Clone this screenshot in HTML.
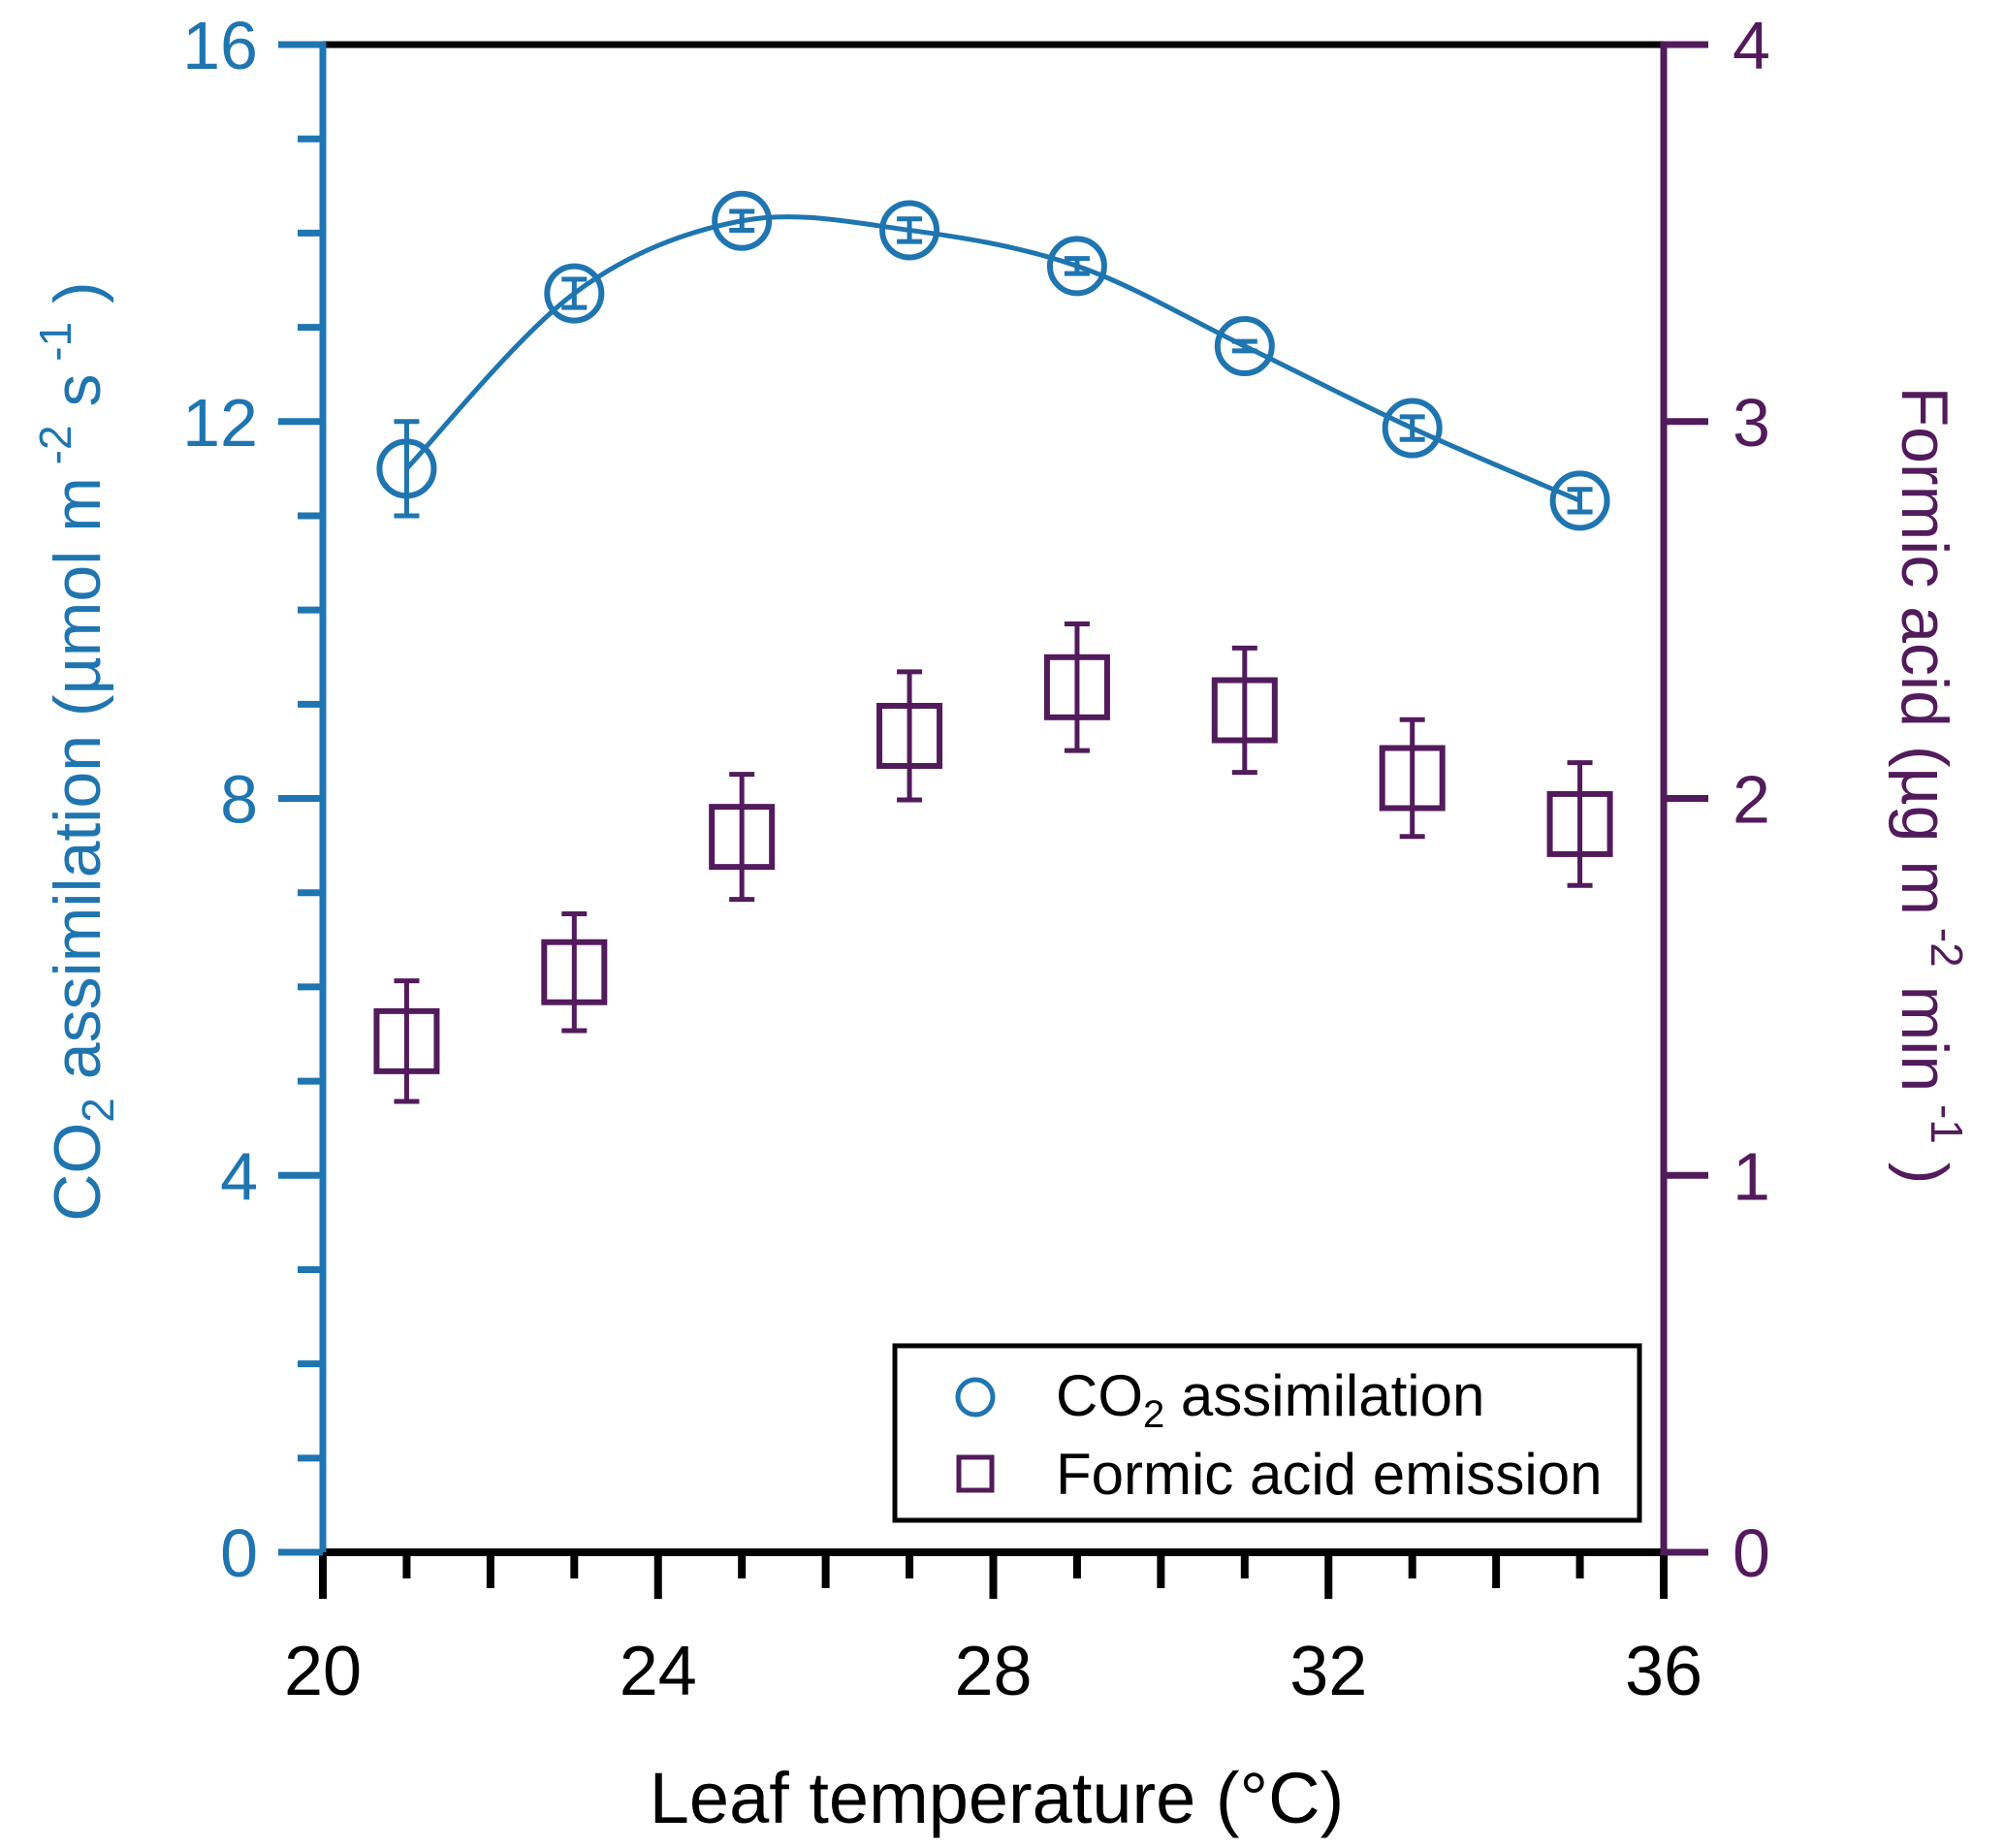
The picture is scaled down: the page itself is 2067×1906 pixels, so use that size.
<!DOCTYPE html>
<html><head><meta charset="utf-8"><style>
body{margin:0;background:#fff}
svg{display:block;font-family:"Liberation Sans",Arial,sans-serif}
</style></head><body>
<svg id="chart" width="2067" height="1906" viewBox="0 0 2067 1906" xmlns="http://www.w3.org/2000/svg">
<g id="axes"></g>
<g id="marks"></g>
<text x="1028" y="1880" font-size="74" text-anchor="middle" fill="#000">Leaf temperature (°C)</text>
<text transform="translate(103,775) rotate(-90)" font-size="68" text-anchor="middle" fill="#1f75b0">CO<tspan font-size="46" dy="14">2</tspan><tspan dy="-14"> assimilation (µmol m</tspan><tspan font-size="46" dy="-30"> -2</tspan><tspan dy="30">  s</tspan><tspan font-size="46" dy="-30"> -1</tspan><tspan dy="30">  )</tspan></text>
<text transform="translate(1962,810) rotate(90)" font-size="68" text-anchor="middle" fill="#521b5b">Formic acid (µg m<tspan font-size="46" dy="-30"> -2</tspan><tspan dy="30">  min</tspan><tspan font-size="46" dy="-30"> -1</tspan><tspan dy="30">  )</tspan></text>
<g>
<rect x="923" y="1388" width="768" height="180" fill="#fff" stroke="#000" stroke-width="5"/>
<circle cx="1006" cy="1441" r="18" fill="none" stroke="#1f75b0" stroke-width="5"/>
<text x="1089" y="1460" font-size="60" fill="#000">CO<tspan font-size="40" dy="12">2</tspan><tspan dy="-12"> assimilation</tspan></text>
<rect x="989" y="1503" width="34" height="34" fill="none" stroke="#521b5b" stroke-width="5"/>
<text x="1089" y="1541" font-size="60" fill="#000">Formic acid emission</text>
</g>
</svg>
<script>
const temps=[21,23,25,27,29,31,33,35];
const co2=[11.5,13.36,14.13,14.03,13.65,12.8,11.93,11.16];
const co2Err=[0.5,0.15,0.1,0.12,0.08,0.05,0.12,0.12];
const formic=[1.356,1.539,1.898,2.166,2.295,2.234,2.054,1.932];
const formicErr=[0.16,0.155,0.166,0.17,0.168,0.165,0.155,0.163];
const xTicks=[20,24,28,32,36];
const yLeftTicks=[0,4,8,12,16];
const yRightTicks=[0,1,2,3,4];

const NS='http://www.w3.org/2000/svg';
const X0=333,X1=1716,YB=1601,YT=46;
const xs=v=>X0+(v-20)/16*(X1-X0);
const yl=v=>YB-v/16*(YB-YT);
const yr=v=>YB-v/4*(YB-YT);
const BLUE='#1f75b0',PURP='#521b5b';
function mk(tag,attrs,parent){const e=document.createElementNS(NS,tag);for(const k in attrs)e.setAttribute(k,attrs[k]);parent.appendChild(e);return e;}
const axes=document.getElementById('axes'),marks=document.getElementById('marks');

let e;
e=mk('line',{x1:X0,y1:YT,x2:X1,y2:YT,stroke:'#000','stroke-width':7},axes);


for(let v=20;v<=36;v++){
  const len=(v%4===0)?48:(v%2===0?37:27);
  e=mk('line',{x1:xs(v),y1:YB,x2:xs(v),y2:YB+len,stroke:'#000','stroke-width':8},axes);
  
  
}
xTicks.forEach(v=>{
  e=mk('text',{x:xs(v),y:1748,'font-size':72,'text-anchor':'middle',fill:'#000'},axes);
  e.textContent=v;
  
  
});
for(let v=0;v<=16;v++){
  const maj=v%4===0;
  e=mk('line',{x1:maj?287:307,y1:yl(v),x2:X0,y2:yl(v),stroke:BLUE,'stroke-width':7},axes);
  
  
}
yLeftTicks.forEach(v=>{
  e=mk('text',{x:266,y:yl(v)+25,'font-size':70,'text-anchor':'end',fill:BLUE},axes);
  e.textContent=v;
  
  
});
yRightTicks.forEach(v=>{
  e=mk('line',{x1:X1,y1:yr(v),x2:1762,y2:yr(v),stroke:PURP,'stroke-width':7},axes);
  
  
  e=mk('text',{x:1787,y:yr(v)+25,'font-size':70,'text-anchor':'start',fill:PURP},axes);
  e.textContent=v;
  
  
});
e=mk('line',{x1:X0,y1:YB,x2:X1,y2:YB,stroke:'#000','stroke-width':8},axes);


e=mk('line',{x1:X0,y1:YT-3,x2:X0,y2:YB,stroke:BLUE,'stroke-width':7},axes);


e=mk('line',{x1:X1,y1:YT-3,x2:X1,y2:YB+3,stroke:PURP,'stroke-width':7},axes);



const pts=temps.map((t,i)=>[xs(t),yl(co2[i])]);
let d='M'+pts[0][0]+','+pts[0][1];
for(let i=0;i<pts.length-1;i++){
  const p0=pts[Math.max(0,i-1)],p1=pts[i],p2=pts[i+1],p3=pts[Math.min(pts.length-1,i+2)];
  const c1=[p1[0]+(p2[0]-p0[0])/6,p1[1]+(p2[1]-p0[1])/6];
  const c2=[p2[0]-(p3[0]-p1[0])/6,p2[1]-(p3[1]-p1[1])/6];
  d+=` C${c1[0]},${c1[1]} ${c2[0]},${c2[1]} ${p2[0]},${p2[1]}`;
}
e=mk('path',{d:d,fill:'none',stroke:BLUE,'stroke-width':5},marks);



function errbar(x,y1,y2,col,name){
  e=mk('path',{d:`M${x},${y1}V${y2}M${x-13},${y1}H${x+13}M${x-13},${y2}H${x+13}`,fill:'none',stroke:col,'stroke-width':5},marks);
  
  
}
temps.forEach((t,i)=>{
  const x=xs(t);
  errbar(x,yr(formic[i]+formicErr[i]),yr(formic[i]-formicErr[i]),PURP,'formic-error-bar');
  e=mk('rect',{x:x-31,y:yr(formic[i])-31,width:62,height:62,fill:'none',stroke:PURP,'stroke-width':6},marks);
  
  
  errbar(x,yl(co2[i]+co2Err[i]),yl(co2[i]-co2Err[i]),BLUE,'co2-error-bar');
  e=mk('circle',{cx:x,cy:yl(co2[i]),r:28,fill:'none',stroke:BLUE,'stroke-width':6},marks);
  
  
});
</script>
</body></html>
